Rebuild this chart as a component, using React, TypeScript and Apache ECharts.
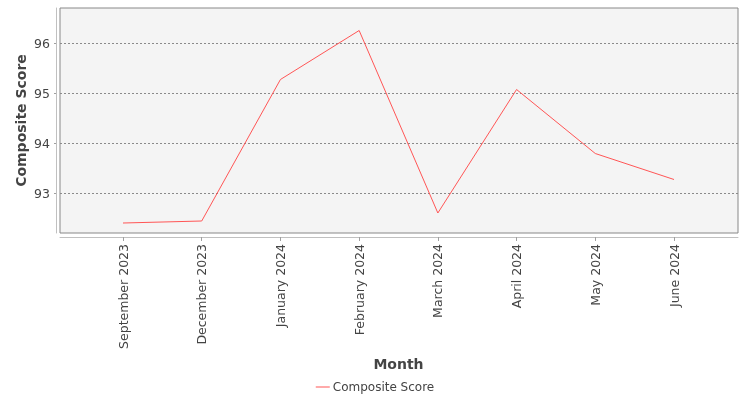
import React, {useEffect, useRef} from 'react';
import * as echarts from 'echarts';

const months = [
    'September 2023',
    'December 2023',
    'January 2024',
    'February 2024',
    'March 2024',
    'April 2024',
    'May 2024',
    'June 2024'
];
const compositeScore = [92.4, 92.44, 95.27, 96.25, 92.6, 95.07, 93.79, 93.27];
const yTicks = [93, 94, 95, 96];
const yMin = 92.2;
const yMax = 96.7;

const FONT = '"DejaVu Sans", sans-serif';
const TEXT = '#444444';

const App = () => {
    const ref = useRef<HTMLDivElement>(null);

    useEffect(() => {
        const chart = echarts.init(ref.current as HTMLDivElement, undefined, {renderer: 'svg'});
        chart.setOption({
            animation: false,
            textStyle: {fontFamily: FONT},
            grid: [
                // plot frame, full width
                {
                    left: 60,
                    right: 12,
                    top: 8,
                    bottom: 167,
                    show: true,
                    backgroundColor: '#f4f4f4',
                    borderColor: '#888888',
                    borderWidth: 1
                },
                // inner grid where the categories sit
                {left: 123, right: 76, top: 8, bottom: 167}
            ],
            legend: {
                bottom: 2,
                left: 'center',
                itemWidth: 14,
                itemHeight: 1,
                itemGap: 10,
                textStyle: {fontFamily: FONT, fontSize: 12, color: TEXT, padding: [0, 0, 0, -2]},
                data: [{name: 'Composite Score', icon: 'rect'}]
            },
            xAxis: [
                {
                    gridIndex: 0,
                    type: 'value',
                    min: 0,
                    max: 1,
                    offset: 4,
                    axisLine: {show: true, onZero: false, lineStyle: {color: '#c0c0c0'}},
                    axisTick: {show: false},
                    axisLabel: {show: false},
                    splitLine: {show: false}
                },
                {
                    gridIndex: 1,
                    type: 'category',
                    data: months,
                    boundaryGap: false,
                    offset: 4,
                    name: 'Month',
                    nameLocation: 'middle',
                    nameGap: 120,
                    nameMoveOverlap: false,
                    nameTextStyle: {fontFamily: FONT, fontSize: 14, fontWeight: 'bold', color: TEXT},
                    axisLine: {show: false, onZero: false},
                    axisTick: {show: true, length: 4, lineStyle: {color: '#a0a0a0'}},
                    axisLabel: {rotate: 90, margin: 7, fontSize: 12.5, color: TEXT, fontFamily: FONT, interval: 0},
                    splitLine: {show: false}
                }
            ],
            yAxis: [
                {
                    gridIndex: 0,
                    type: 'value',
                    min: yMin,
                    max: yMax,
                    offset: 4,
                    name: 'Composite Score',
                    nameLocation: 'middle',
                    nameGap: 28,
                    nameMoveOverlap: false,
                    nameTextStyle: {fontFamily: FONT, fontSize: 14, fontWeight: 'bold', color: TEXT},
                    axisLine: {show: true, onZero: false, lineStyle: {color: '#c0c0c0'}},
                    axisTick: {show: true, length: 2, customValues: yTicks, lineStyle: {color: '#a0a0a0'}},
                    axisLabel: {
                        margin: 6,
                        fontSize: 12.5,
                        color: TEXT,
                        fontFamily: FONT,
                        customValues: yTicks
                    },
                    splitLine: {show: true, lineStyle: {color: '#8a8a8a', type: [2, 2], width: 1}}
                },
                {
                    gridIndex: 1,
                    type: 'value',
                    min: yMin,
                    max: yMax,
                    show: false,
                    splitLine: {show: false}
                }
            ],
            series: [
                {
                    name: 'Composite Score',
                    type: 'line',
                    xAxisIndex: 1,
                    yAxisIndex: 1,
                    data: compositeScore,
                    symbol: 'none',
                    lineStyle: {color: '#ff5555', width: 1},
                    itemStyle: {color: '#ff5555'}
                }
            ]
        });
        return () => chart.dispose();
    }, []);

    return <div ref={ref} style={{position: 'fixed', left: 0, top: 0, width: 750, height: 400}}></div>;
};

export default App;
